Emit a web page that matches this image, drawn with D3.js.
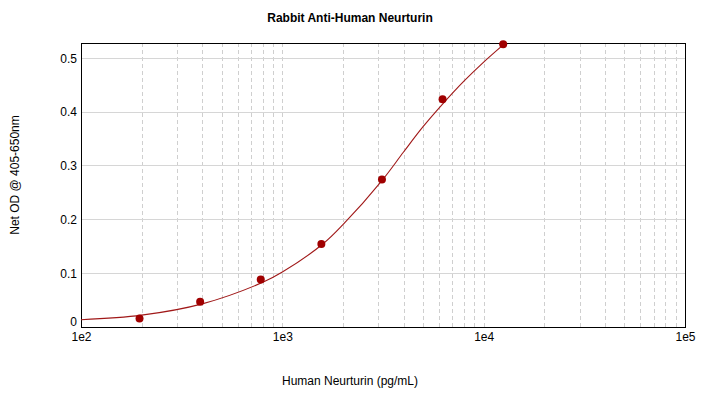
<!DOCTYPE html>
<html>
<head>
<meta charset="utf-8">
<script src="https://cdn.jsdelivr.net/npm/d3@7"></script>
<style>
  body { margin: 0; background: #fff; }
  svg text { font-family: "Liberation Sans", Arial, sans-serif; font-size: 12px; fill: #000; }
</style>
</head>
<body>
<div id="chart"></div>
<script>
// standard points (pg/mL vs net OD)
var concs = [195.3, 390.6, 781.25, 1562.5, 3125, 6250, 12500];
var ods = [0.016, 0.047, 0.088, 0.154, 0.274, 0.423, 0.525];

// fitted curve
var curveConcs = [100, 200, 400, 800, 1000, 1600, 2000, 3125, 4000, 5000, 6250, 8000, 10000, 12500];
var curveOds = [0.0134, 0.022, 0.043, 0.083, 0.102, 0.155, 0.190, 0.272, 0.325, 0.372, 0.414, 0.457, 0.492, 0.524];

var yTicks = [0, 0.1, 0.2, 0.3, 0.4, 0.5];
var xTicks = [1e2, 1e3, 1e4, 1e5];
var xTickLabels = ["1e2", "1e3", "1e4", "1e5"];

var W = 703, H = 397;
var margin = {left: 81, right: 18, top: 43, bottom: 70};
var width = W - margin.left - margin.right;
var height = H - margin.top - margin.bottom;

var svg = d3.select("#chart").append("svg")
  .attr("width", W)
  .attr("height", H);

svg.append("text")
  .attr("x", 350).attr("y", 22)
  .attr("text-anchor", "middle")
  .style("font-weight", "bold")
  .text("Rabbit Anti-Human Neurturin");

var g = svg.append("g")
  .attr("transform", "translate(" + margin.left + "," + margin.top + ")");

var x = d3.scaleLog().domain([1e2, 1e5]).range([0, width]);
var y = d3.scaleLinear().domain([0, 0.5275]).range([height, 0]);

// minor log grid (dashed)
var minor = [];
[1e2, 1e3, 1e4].forEach(function(d) {
  for (var k = 1; k <= 9; k++) minor.push(d * k);
});
g.selectAll(".vgrid").data(minor.filter(function(d) { return d > 1e2; })).enter()
  .append("line")
  .attr("class", "vgrid")
  .attr("x1", function(d) { return Math.round(x(d)) + 0.5; })
  .attr("x2", function(d) { return Math.round(x(d)) + 0.5; })
  .attr("y1", 0).attr("y2", height)
  .attr("stroke", "#cfcfcf")
  .attr("stroke-dasharray", "4,3");

// horizontal grid
g.selectAll(".hgrid").data(yTicks.filter(function(d) { return d > 0; })).enter()
  .append("line")
  .attr("class", "hgrid")
  .attr("x1", 0).attr("x2", width)
  .attr("y1", function(d) { return Math.round(y(d)) + 0.5; })
  .attr("y2", function(d) { return Math.round(y(d)) + 0.5; })
  .attr("stroke", "#d6d6d6");

// frame
g.append("rect")
  .attr("x", 0.5).attr("y", 0.5)
  .attr("width", width).attr("height", height)
  .attr("fill", "none")
  .attr("stroke", "#000");

// axes (labels only)
var yAxis = d3.axisLeft(y).tickValues(yTicks).tickSize(0).tickPadding(4)
  .tickFormat(function(d) { return d === 0 ? "0" : d3.format(".1f")(d); });
var ya = g.append("g").call(yAxis);
ya.select(".domain").remove();
ya.selectAll("text").style("font-size", "12px").attr("dy", "0.35em");
ya.selectAll(".tick").filter(function(d) { return d === 0; }).select("text").attr("dy", "-0.1em").attr("x", -4);

var xAxis = d3.axisBottom(x).tickValues(xTicks).tickSize(0).tickPadding(5)
  .tickFormat(function(d, i) { return xTickLabels[i]; });
var xa = g.append("g").attr("transform", "translate(0," + height + ")").call(xAxis);
xa.select(".domain").remove();
xa.selectAll("text").style("font-size", "12px");

// fitted curve
var line = d3.line()
  .x(function(d) { return x(d[0]); })
  .y(function(d) { return y(d[1]); })
  .curve(d3.curveCatmullRom);
g.append("path")
  .datum(d3.zip(curveConcs, curveOds))
  .attr("d", line)
  .attr("fill", "none")
  .attr("stroke", "#a01818")
  .attr("stroke-width", 1.1);

// points
g.selectAll(".pt").data(d3.zip(concs, ods)).enter()
  .append("circle")
  .attr("class", "pt")
  .attr("cx", function(d) { return x(d[0]); })
  .attr("cy", function(d) { return y(d[1]); })
  .attr("r", 4)
  .attr("fill", "#a00000");

// axis titles
svg.append("text")
  .attr("x", 350).attr("y", 385)
  .attr("text-anchor", "middle")
  .text("Human Neurturin (pg/mL)");

svg.append("text")
  .attr("transform", "translate(19,175) rotate(-90)")
  .attr("text-anchor", "middle")
  .text("Net OD @ 405-650nm");
</script>
</body>
</html>
